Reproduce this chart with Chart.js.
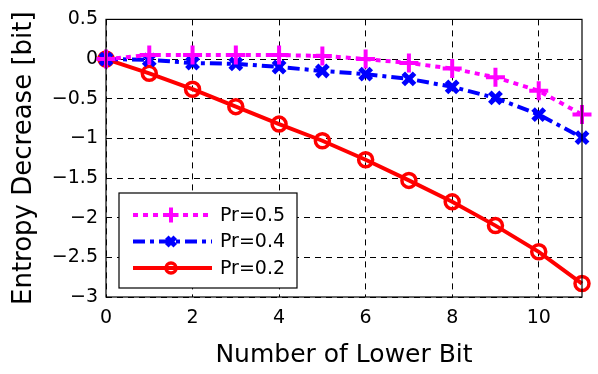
<!DOCTYPE html>
<html>
<head>
<meta charset="utf-8">
<script src="https://cdn.jsdelivr.net/npm/chart.js@4"></script>
<style>
  html, body { margin: 0; padding: 0; background: #fff; }
  #wrap { width: 598px; height: 374px; }
</style>
</head>
<body>
<div id="wrap"><canvas id="entropyChart" width="598" height="374"></canvas></div>
<script>
// data
const lowerBits = [0, 1, 2, 3, 4, 5, 6, 7, 8, 9, 10, 11];
const pr05 = [0, 0.05, 0.05, 0.05, 0.05, 0.04, 0, -0.05, -0.12, -0.23, -0.4, -0.7];
const pr04 = [0, -0.01, -0.05, -0.06, -0.1, -0.15, -0.19, -0.25, -0.35, -0.49, -0.7, -0.99];
const pr02 = [0, -0.18, -0.38, -0.6, -0.82, -1.03, -1.27, -1.53, -1.8, -2.1, -2.43, -2.83];
const xTicks = [0, 2, 4, 6, 8, 10];
const seriesLabels = ['Pr=0.5', 'Pr=0.4', 'Pr=0.2'];

const FONT = '"DejaVu Sans", sans-serif';

function toPoints(ys) {
    return lowerBits.map((x, i) => ({ x: x, y: ys[i] }));
}

// box around the plot + legend drawn inside the axes
const boxAndLegend = {
    id: 'boxAndLegend',
    afterDraw(chart) {
        const ctx = chart.ctx;
        const a = chart.chartArea;
        ctx.save();
        ctx.strokeStyle = '#000';
        ctx.lineWidth = 1.2;
        ctx.setLineDash([]);
        ctx.strokeRect(a.left, a.top, a.right - a.left, a.bottom - a.top);

        // legend box
        const lx = a.left + 13, ly = a.bottom - 104, lw = 178, lh = 95;
        ctx.fillStyle = '#fff';
        ctx.fillRect(lx, ly, lw, lh);
        ctx.strokeRect(lx, ly, lw, lh);

        chart.data.datasets.forEach((ds, i) => {
            const yy = ly + 22 + i * 26.5;
            ctx.strokeStyle = ds.borderColor;
            ctx.lineWidth = ds.borderWidth;
            ctx.setLineDash(ds.borderDash || []);
            ctx.beginPath();
            ctx.moveTo(lx + 14, yy);
            ctx.lineTo(lx + 93, yy);
            ctx.stroke();
            ctx.setLineDash([]);
            ctx.fillStyle = 'rgba(0,0,0,0)';
            ctx.strokeStyle = ds.pointBorderColor;
            ctx.lineWidth = ds.pointBorderWidth;
            Chart.helpers.drawPoint(ctx, {
                pointStyle: ds.pointStyle,
                radius: ds.pointRadius - 2,
                borderWidth: ds.pointBorderWidth,
                rotation: 0
            }, lx + 52, yy);
            ctx.fillStyle = '#000';
            ctx.font = '19px ' + FONT;
            ctx.textAlign = 'left';
            ctx.textBaseline = 'middle';
            ctx.fillText(ds.label, lx + 101, yy + 1);
        });
        ctx.restore();
    }
};

const ctx = document.getElementById('entropyChart').getContext('2d');
const chart = new Chart(ctx, {
    type: 'line',
    data: {
        datasets: [{
            label: seriesLabels[0],
            data: toPoints(pr05),
            borderColor: '#ff00ff',
            backgroundColor: '#ff00ff',
            borderWidth: 4,
            borderDash: [5, 5],
            pointStyle: 'cross',
            pointRadius: 9.5,
            pointBorderWidth: 4,
            pointBorderColor: '#ff00ff',
            fill: false,
            tension: 0
        }, {
            label: seriesLabels[1],
            data: toPoints(pr04),
            borderColor: '#0000ff',
            backgroundColor: '#0000ff',
            borderWidth: 4,
            borderDash: [12, 5, 4, 5],
            pointStyle: 'crossRot',
            pointRadius: 8,
            pointBorderWidth: 5,
            pointBorderColor: '#0000ff',
            fill: false,
            tension: 0
        }, {
            label: seriesLabels[2],
            data: toPoints(pr02),
            borderColor: '#ff0000',
            backgroundColor: 'rgba(0,0,0,0)',
            borderWidth: 4,
            pointStyle: 'circle',
            pointRadius: 7,
            pointBorderWidth: 3.5,
            pointBorderColor: '#ff0000',
            fill: false,
            tension: 0
        }]
    },
    options: {
        responsive: false,
        animation: false,
        clip: false,
        layout: {
            padding: { top: 17, right: 16, left: 0, bottom: 0 }
        },
        plugins: {
            legend: { display: false },
            tooltip: { enabled: false }
        },
        scales: {
            x: {
                type: 'linear',
                min: 0,
                max: 11,
                afterBuildTicks: function (scale) {
                    scale.ticks = xTicks.map(v => ({ value: v }));
                },
                afterFit: function (scale) {
                    scale.height = 77;
                },
                ticks: {
                    color: '#000',
                    font: { family: FONT, size: 19 },
                    maxRotation: 0,
                    padding: 10
                },
                grid: {
                    color: '#000',
                    lineWidth: 1,
                    drawTicks: false
                },
                border: { display: false, dash: [6, 5] },
                title: {
                    display: true,
                    text: 'Number of Lower Bit',
                    color: '#000',
                    font: { family: FONT, size: 25 },
                    padding: { top: 5 }
                }
            },
            y: {
                min: -3,
                max: 0.5,
                afterFit: function (scale) {
                    scale.width = 106;
                },
                ticks: {
                    stepSize: 0.5,
                    color: '#000',
                    font: { family: FONT, size: 19 },
                    padding: 8,
                    callback: function (value) {
                        return String(value).replace('-', '\u2212');
                    }
                },
                grid: {
                    color: '#000',
                    lineWidth: 1,
                    drawTicks: false
                },
                border: { display: false, dash: [6, 5] },
                title: {
                    display: true,
                    text: 'Entropy Decrease [bit]',
                    color: '#000',
                    font: { family: FONT, size: 26 },
                    padding: { top: 9, bottom: 2 }
                }
            }
        }
    },
    plugins: [boxAndLegend]
});
</script>
</body>
</html>
